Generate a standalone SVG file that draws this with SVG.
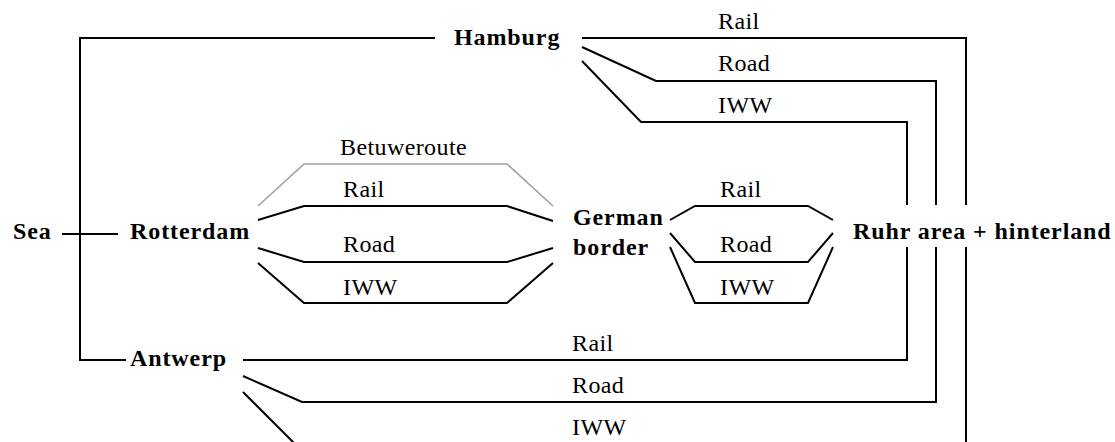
<svg xmlns="http://www.w3.org/2000/svg" width="1115" height="442" viewBox="0 0 1115 442">
<style>
.n{font-family:"Liberation Serif","Times New Roman",serif;font-weight:bold;font-size:24px;letter-spacing:0.9px;fill:#000}
.l{font-family:"Liberation Serif","Times New Roman",serif;font-size:24px;letter-spacing:0.4px;fill:#000}
.c{fill:none;stroke:#000;stroke-width:2;stroke-linejoin:miter}
.g{fill:none;stroke:#a0a0a0;stroke-width:1.6}
</style>
<rect width="1115" height="442" fill="#fff"/>
<g id="connectors">
  <!-- Sea links -->
  <polyline class="c" points="435,38 80,38 80,360 126,360"/>
  <line class="c" x1="62" y1="234" x2="118" y2="234"/>
  <!-- Hamburg to Ruhr -->
  <polyline class="c" points="582,38 966,38 966,205"/>
  <polyline class="c" points="582,47 656,81 936,81 936,205"/>
  <polyline class="c" points="582,61 641,122 907,122 907,205"/>
  <!-- Rotterdam to German border -->
  <polyline class="g" points="258,206 304,164 507,164 553,206"/>
  <polyline class="c" points="258,220 304,206 507,206 553,221"/>
  <polyline class="c" points="258,248 304,262 507,262 553,248"/>
  <polyline class="c" points="258,263 304,303 507,303 553,263"/>
  <!-- German border to Ruhr -->
  <polyline class="c" points="670,220 695,206 808,206 833,220"/>
  <polyline class="c" points="670,233 695,262 808,262 833,233"/>
  <polyline class="c" points="670,247 695,303 808,303 833,247"/>
  <!-- Antwerp to Ruhr -->
  <polyline class="c" points="243,360 907,360 907,247"/>
  <polyline class="c" points="243,376 302,402 936,402 936,247"/>
  <polyline class="c" points="243,392 296,445"/>
  <line class="c" x1="966" y1="247" x2="966" y2="444"/>
  <!-- labels -->
  <text class="l" x="718" y="29">Rail</text>
  <text class="l" x="718" y="71">Road</text>
  <text class="l" x="718" y="113">IWW</text>
  <text class="l" x="340" y="155">Betuweroute</text>
  <text class="l" x="343" y="197">Rail</text>
  <text class="l" x="343" y="252">Road</text>
  <text class="l" x="343" y="295">IWW</text>
  <text class="l" x="720" y="197">Rail</text>
  <text class="l" x="720" y="252">Road</text>
  <text class="l" x="720" y="295">IWW</text>
  <text class="l" x="572" y="351">Rail</text>
  <text class="l" x="572" y="393">Road</text>
  <text class="l" x="572" y="435">IWW</text>
</g>
<g id="sea"><text class="n" x="13" y="239">Sea</text></g>
<g id="rotterdam"><text class="n" x="130" y="239">Rotterdam</text></g>
<g id="hamburg"><text class="n" x="454" y="45">Hamburg</text></g>
<g id="antwerp"><text class="n" x="130" y="366">Antwerp</text></g>
<g id="german-border"><text class="n" x="573" y="225">German</text><text class="n" x="573" y="255">border</text></g>
<g id="ruhr"><text class="n" x="853" y="239">Ruhr area + hinterland</text></g>
</svg>
